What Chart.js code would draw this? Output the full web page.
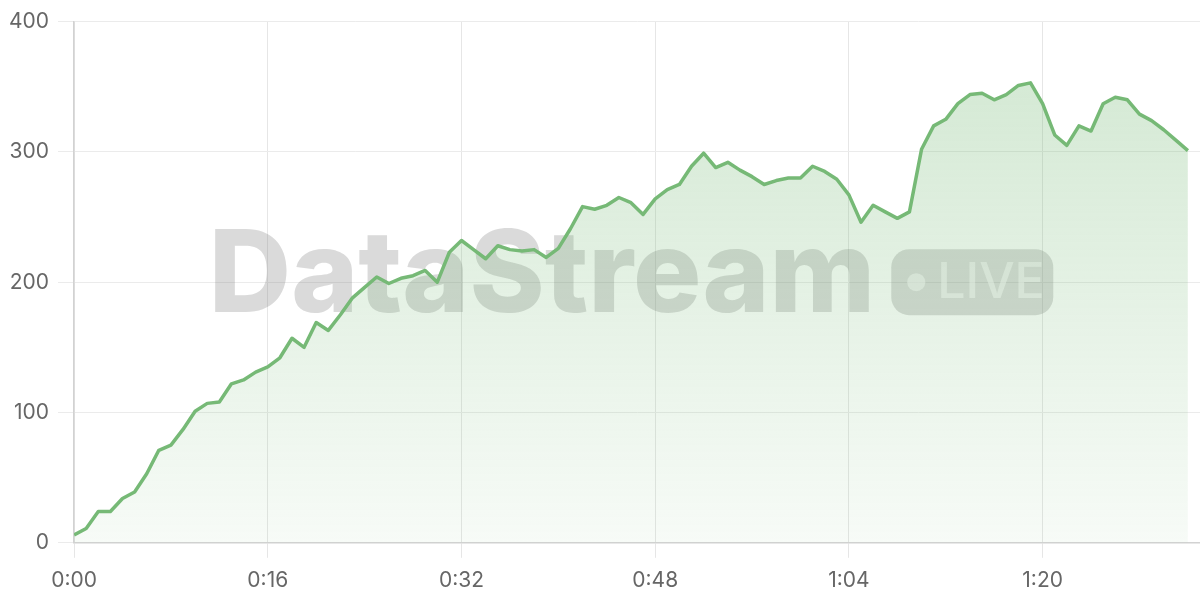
<!DOCTYPE html>
<html lang="en">

<head>
  <meta charset="UTF-8">
  <title>DataStream LIVE</title>
  <style>
    body {
      margin: 0;
      padding: 0;
      background: #ffffff;
    }

    .chart-container {
      width: 1200px;
      height: 600px;
    }
  </style>
  <script src="https://cdn.jsdelivr.net/npm/chart.js"></script>
</head>

<body>
  <div class="chart-container">
    <canvas id="myChart"></canvas>
  </div>

  <script>
    // valeurs (une par seconde, 0 à 92)
    const values = [
      6, 11, 24, 24, 34, 39, 53, 71, 75, 87,
      101, 107, 108, 122, 125, 131, 135, 142, 157, 150,
      169, 163, 175, 188, 196, 204, 199, 203, 205, 209,
      200, 223, 232, 225, 218, 228, 225, 224, 225, 219,
      226, 241, 258, 256, 259, 265, 261, 252, 264, 271,
      275, 289, 299, 288, 292, 286, 281, 275, 278, 280,
      280, 289, 285, 279, 267, 246, 259, 254, 249, 254,
      302, 320, 325, 337, 344, 345, 340, 344, 351, 353,
      337, 313, 305, 320, 316, 337, 342, 340, 329, 324,
      317, 309, 301
    ];
    const xTickValues = [0, 16, 32, 48, 64, 80];
    const xTickLabels = ['0:00', '0:16', '0:32', '0:48', '1:04', '1:20'];
    const yTickValues = [0, 100, 200, 300, 400];

    var lineColor = 'rgb(118, 185, 118)';
    var labelFont = { family: 'Inter', size: 21 };

    // filigrane "DataStream • LIVE" dessiné sous la courbe
    const watermark = {
      id: 'watermark',
      beforeDatasetsDraw(chart) {
        const ctx = chart.ctx;
        const area = chart.chartArea;
        const cx = (area.left + area.right) / 2 - 6;
        const cy = (area.top + area.bottom) / 2;
        ctx.save();
        ctx.font = '800 114px Inter';
        const text = 'DataStream';
        const tw = ctx.measureText(text).width;
        const badgeW = 162, badgeH = 66, gap = 16;
        const total = tw + gap + badgeW;
        const x0 = cx - total / 2;

        ctx.fillStyle = 'rgba(120, 120, 120, 0.27)';
        ctx.textBaseline = 'alphabetic';
        ctx.fillText(text, x0, cy + 30);

        // badge arrondi
        const bx = x0 + tw + gap;
        const by = cy - badgeH / 2;
        ctx.beginPath();
        ctx.roundRect(bx, by, badgeW, badgeH, 18);
        ctx.fill();

        ctx.fillStyle = 'rgba(255, 255, 255, 0.55)';
        ctx.beginPath();
        ctx.arc(bx + 25, cy, 9, 0, Math.PI * 2);
        ctx.fill();
        ctx.font = '500 50px Inter';
        ctx.textBaseline = 'middle';
        ctx.fillText('LIVE', bx + 46, cy + 1);
        ctx.restore();
      }
    };

    window.onload = function () {
      const ctx = document.getElementById('myChart').getContext('2d');

      new Chart(ctx, {
        type: 'line',
        data: {
          datasets: [{
            data: values.map((v, i) => ({ x: i, y: v })),
            borderColor: lineColor,
            borderWidth: 3.5,
            borderJoinStyle: 'round',
            pointRadius: 0,
            tension: 0,
            fill: 'origin',
            backgroundColor: function (context) {
              const area = context.chart.chartArea;
              if (!area) return 'rgba(118, 185, 118, 0.2)';
              const g = context.chart.ctx.createLinearGradient(0, area.top, 0, area.bottom);
              g.addColorStop(0, 'rgba(118, 185, 118, 0.34)');
              g.addColorStop(1, 'rgba(118, 185, 118, 0.06)');
              return g;
            }
          }]
        },
        options: {
          responsive: true,
          maintainAspectRatio: false,
          animation: false,
          layout: { padding: { top: 19, right: 0, bottom: -3, left: 0 } },
          plugins: {
            legend: { display: false },
            tooltip: { enabled: false }
          },
          scales: {
            x: {
              type: 'linear',
              min: 0,
              max: 93,
              afterBuildTicks: function (scale) {
                scale.ticks = xTickValues.map(v => ({ value: v }));
              },
              grid: {
                color: '#e6e6e6',
                tickLength: 15,
                lineWidth: 1
              },
              border: { color: '#d2d2d2', width: 1.5 },
              ticks: {
                color: '#666666',
                font: labelFont,
                padding: 10,
                maxRotation: 0,
                callback: function (value) {
                  const k = xTickValues.indexOf(value);
                  return k >= 0 ? xTickLabels[k] : '';
                }
              }
            },
            y: {
              min: 0,
              max: 400,
              afterBuildTicks: function (scale) {
                scale.ticks = yTickValues.map(v => ({ value: v }));
              },
              grid: {
                color: '#ebebeb',
                tickLength: 16,
                lineWidth: 1
              },
              border: { color: '#d2d2d2', width: 1.5 },
              ticks: {
                color: '#666666',
                font: labelFont,
                padding: 9
              }
            }
          }
        },
        plugins: [watermark]
      });
    };
  </script>
</body>

</html>
